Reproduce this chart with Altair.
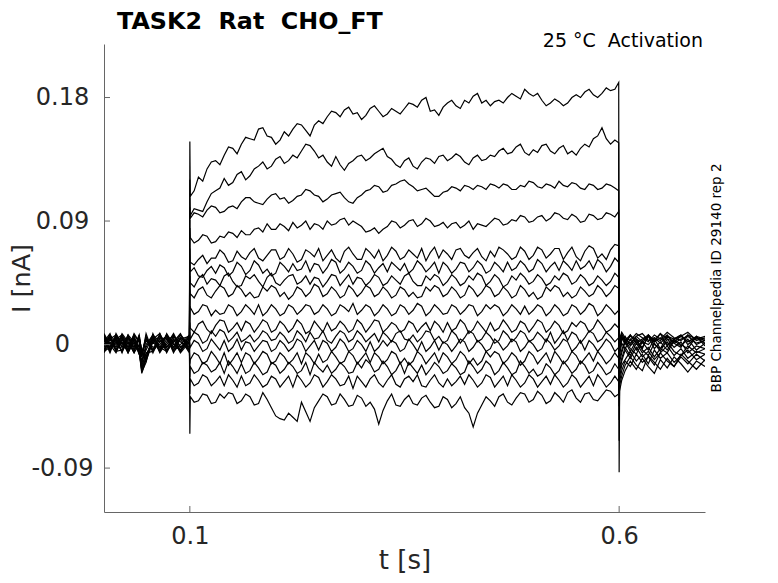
import altair as alt
import pandas as pd

# ---------------- time grids (s) ----------------
T_PRE = [0.000, 0.007, 0.014, 0.021, 0.028, 0.035, 0.041, 0.044, 0.049, 0.057,
         0.065, 0.073, 0.081, 0.089, 0.0995]
T_STEP = [0.1005, 0.11, 0.12, 0.13, 0.14, 0.15, 0.16, 0.17, 0.18, 0.19,
          0.20, 0.21, 0.22, 0.23, 0.24, 0.25, 0.26, 0.27, 0.28, 0.29,
          0.30, 0.31, 0.32, 0.33, 0.34, 0.35, 0.36, 0.37, 0.38, 0.39,
          0.40, 0.41, 0.42, 0.43, 0.44, 0.45, 0.46, 0.47, 0.48, 0.49,
          0.50, 0.51, 0.52, 0.53, 0.54, 0.55, 0.56, 0.57, 0.58, 0.59,
          0.5995]
T_MID = [0.105, 0.115, 0.125, 0.135, 0.145, 0.155, 0.165, 0.175, 0.185, 0.195,
         0.205, 0.215, 0.225, 0.235, 0.245, 0.255, 0.265, 0.275, 0.285, 0.295,
         0.305, 0.315, 0.325, 0.335, 0.345, 0.355, 0.365, 0.375, 0.385, 0.395,
         0.405, 0.415, 0.425, 0.435, 0.445, 0.455, 0.465, 0.475, 0.485, 0.495,
         0.505, 0.515, 0.525, 0.535, 0.545, 0.555, 0.565, 0.575, 0.585, 0.595]
T_TAIL = [0.6005, 0.603, 0.607, 0.613, 0.620, 0.627, 0.634, 0.641, 0.648, 0.656,
          0.664, 0.672, 0.680, 0.690, 0.700]
T_ON = 0.1
T_OFF = 0.6

# ---------------- currents (nA) ----------------
ON_SPIKE = [0.148, 0.120, 0.100, 0.085, 0.070, 0.060, 0.050, 0.040,
            0.028, 0.016, 0.009, 0.000, -0.014, -0.024, -0.036, -0.065]
OFF_SPIKE = [-0.093, -0.070, -0.055, -0.045, -0.035, -0.028, -0.022, -0.018,
             -0.014, -0.010, -0.008, -0.006, -0.004, -0.002, 0.000, 0.002]

P01 = [0.006,-0.004,0.007,0.001,-0.005,0.004,-0.007,-0.012,-0.004,0.006,-0.002,0.007,0.001,-0.005,0.004]
P02 = [-0.004,0.006,-0.002,0.008,0.002,-0.006,0.000,-0.009,0.003,-0.004,0.007,-0.002,0.006,0.002,-0.004]
P03 = [0.002,0.008,-0.005,0.004,-0.002,0.007,-0.006,-0.018,-0.009,0.004,0.008,-0.004,0.002,0.007,0.000]
P04 = [0.007,-0.002,0.004,-0.006,0.006,0.000,-0.005,-0.007,0.005,-0.005,0.002,0.006,-0.006,0.004,0.006]
P05 = [-0.005,0.004,0.000,0.006,-0.004,0.008,0.002,-0.020,-0.013,0.007,-0.004,0.000,0.008,-0.002,0.002]
P06 = [0.004,-0.006,0.006,-0.002,0.007,-0.004,0.005,-0.004,-0.011,0.008,-0.005,0.004,-0.002,0.007,-0.005]
P07 = [0.000,0.007,-0.004,0.002,-0.006,0.004,-0.002,-0.015,-0.007,0.002,0.006,-0.006,0.004,-0.004,0.007]
P08 = [0.008,0.000,0.005,-0.005,0.002,-0.006,0.007,-0.006,0.004,-0.002,0.000,0.007,-0.004,0.005,-0.002]
P09 = [-0.006,0.002,-0.004,0.007,0.000,0.005,-0.005,-0.019,-0.010,0.005,-0.006,0.002,0.007,-0.005,0.004]
P10 = [0.004,-0.005,0.008,0.000,0.005,-0.002,0.004,-0.008,0.006,-0.004,0.004,-0.005,0.002,0.008,-0.004]
P11 = [-0.002,0.007,0.002,-0.005,0.007,0.002,-0.007,-0.012,0.000,0.007,0.002,0.005,-0.005,0.000,0.007]
P12 = [0.005,0.000,-0.006,0.004,-0.004,0.007,0.002,-0.017,-0.006,-0.005,0.008,-0.002,0.004,-0.006,0.002]
P13 = [-0.004,0.004,0.007,-0.002,0.004,-0.005,0.005,-0.004,-0.012,0.002,-0.004,0.007,-0.002,0.004,-0.006]
P14 = [0.007,-0.004,0.002,0.005,-0.006,0.002,-0.004,-0.014,-0.002,0.007,-0.002,-0.005,0.007,-0.002,0.005]
P15 = [0.002,0.005,-0.005,-0.004,0.005,-0.002,0.007,-0.009,0.008,-0.006,0.005,0.004,-0.004,0.005,0.000]
P16 = [-0.005,-0.002,0.004,0.007,-0.002,0.005,-0.005,-0.021,-0.011,0.004,-0.005,0.008,0.000,-0.004,0.006]

S01 = [0.108,0.122,0.128,0.134,0.138,0.143,0.146,0.150,0.157,0.152,
       0.146,0.155,0.157,0.160,0.152,0.163,0.166,0.169,0.171,0.168,
       0.164,0.172,0.170,0.168,0.170,0.172,0.175,0.178,0.170,0.167,
       0.176,0.174,0.178,0.181,0.176,0.174,0.178,0.180,0.181,0.186,
       0.181,0.178,0.176,0.177,0.176,0.182,0.184,0.182,0.183,0.185,
       0.191]
S02 = [0.094,0.098,0.104,0.112,0.121,0.118,0.126,0.123,0.130,0.128,
       0.135,0.132,0.138,0.141,0.145,0.136,0.133,0.137,0.127,0.134,
       0.138,0.136,0.141,0.137,0.131,0.134,0.130,0.133,0.135,0.137,
       0.134,0.139,0.133,0.136,0.134,0.138,0.141,0.139,0.144,0.140,
       0.142,0.145,0.141,0.143,0.139,0.138,0.146,0.150,0.158,0.146,
       0.147]
S03 = [0.092,0.095,0.098,0.100,0.097,0.101,0.104,0.107,0.103,0.106,
       0.110,0.107,0.105,0.109,0.112,0.108,0.106,0.110,0.107,0.103,
       0.109,0.113,0.115,0.112,0.117,0.120,0.115,0.113,0.111,0.108,
       0.112,0.114,0.116,0.113,0.115,0.117,0.114,0.116,0.113,0.115,
       0.118,0.114,0.116,0.119,0.115,0.117,0.113,0.116,0.114,0.116,
       0.112]
S04 = [0.078,0.076,0.079,0.075,0.078,0.081,0.083,0.080,0.085,0.088,
       0.084,0.086,0.089,0.087,0.084,0.087,0.090,0.088,0.092,0.090,
       0.086,0.083,0.081,0.086,0.089,0.087,0.091,0.088,0.090,0.087,
       0.085,0.089,0.087,0.084,0.087,0.089,0.091,0.088,0.090,0.093,
       0.090,0.094,0.092,0.095,0.091,0.093,0.090,0.094,0.092,0.095,
       0.097]
S05 = [0.060,0.062,0.059,0.063,0.066,0.061,0.064,0.067,0.063,0.065,
       0.069,0.064,0.066,0.062,0.067,0.070,0.065,0.063,0.068,0.066,
       0.062,0.067,0.069,0.065,0.068,0.064,0.066,0.070,0.067,0.063,
       0.066,0.069,0.065,0.067,0.064,0.068,0.071,0.066,0.064,0.068,
       0.065,0.069,0.066,0.070,0.067,0.064,0.068,0.070,0.066,0.069,
       0.072]
S06 = [0.053,0.050,0.054,0.052,0.056,0.053,0.057,0.054,0.058,0.055,
       0.052,0.057,0.059,0.055,0.053,0.058,0.056,0.060,0.055,0.057,
       0.054,0.058,0.056,0.053,0.057,0.059,0.055,0.058,0.056,0.052,
       0.057,0.055,0.059,0.056,0.058,0.054,0.057,0.060,0.056,0.058,
       0.055,0.059,0.057,0.054,0.058,0.061,0.057,0.055,0.059,0.057,
       0.060]
S07 = [0.045,0.048,0.044,0.047,0.050,0.046,0.043,0.048,0.046,0.049,
       0.045,0.047,0.051,0.046,0.044,0.048,0.046,0.050,0.047,0.044,
       0.048,0.046,0.049,0.045,0.047,0.050,0.046,0.043,0.047,0.049,
       0.046,0.048,0.045,0.047,0.050,0.046,0.048,0.044,0.047,0.049,
       0.046,0.048,0.045,0.047,0.050,0.046,0.048,0.045,0.047,0.046,
       0.049]
S08 = [0.037,0.040,0.036,0.039,0.041,0.037,0.040,0.038,0.035,0.039,
       0.041,0.038,0.036,0.040,0.038,0.042,0.037,0.039,0.036,0.040,
       0.038,0.041,0.037,0.039,0.036,0.040,0.038,0.035,0.039,0.041,
       0.037,0.039,0.036,0.040,0.038,0.041,0.037,0.039,0.036,0.040,
       0.038,0.035,0.039,0.041,0.038,0.036,0.039,0.037,0.040,0.038,
       0.041]
S09 = [0.027,0.024,0.028,0.025,0.023,0.027,0.024,0.026,0.029,0.024,
       0.026,0.023,0.027,0.025,0.028,0.024,0.026,0.023,0.027,0.030,
       0.025,0.027,0.024,0.026,0.023,0.027,0.025,0.028,0.024,0.026,
       0.023,0.027,0.025,0.028,0.024,0.026,0.027,0.024,0.026,0.028,
       0.025,0.027,0.024,0.026,0.023,0.027,0.025,0.028,0.024,0.026,
       0.025]
S10 = [0.012,0.015,0.011,0.014,0.017,0.012,0.010,0.015,0.013,0.016,
       0.011,0.014,0.012,0.015,0.010,0.013,0.016,0.012,0.014,0.011,
       0.015,0.013,0.017,0.012,0.014,0.011,0.015,0.013,0.010,0.014,
       0.016,0.012,0.015,0.011,0.013,0.016,0.012,0.014,0.011,0.015,
       0.013,0.016,0.012,0.014,0.010,0.013,0.015,0.012,0.014,0.011,
       0.012]
S11 = [0.004,0.007,0.003,0.006,0.009,0.005,0.002,0.007,0.005,0.008,
       0.004,0.006,0.003,0.007,0.009,0.005,0.003,0.006,0.008,0.004,
       0.007,0.005,0.002,0.006,0.008,0.004,0.007,0.005,0.009,0.006,
       0.003,0.007,0.005,0.008,0.004,0.006,0.003,0.007,0.005,0.008,
       0.004,0.006,0.009,0.005,0.003,0.007,0.005,0.008,0.004,0.006,
       0.005]
S12 = [-0.002,0.001,-0.003,0.000,0.003,-0.002,-0.004,0.001,-0.001,0.002,
       -0.003,0.000,-0.002,0.002,-0.001,-0.004,0.001,-0.002,0.001,-0.003,
       0.000,0.002,-0.002,-0.001,0.001,-0.003,0.000,0.002,-0.002,-0.004,
       0.000,-0.001,0.002,-0.002,0.000,-0.003,0.001,-0.001,0.002,-0.002,
       0.000,-0.003,0.001,-0.001,0.002,-0.002,-0.004,0.000,-0.001,0.001,
       -0.002]
S13 = [-0.011,-0.008,-0.012,-0.009,-0.006,-0.011,-0.013,-0.008,-0.010,-0.007,
       -0.012,-0.009,-0.011,-0.014,-0.009,-0.007,-0.011,-0.009,-0.012,-0.008,
       -0.010,-0.013,-0.009,-0.011,-0.007,-0.010,-0.012,-0.008,-0.010,-0.013,
       -0.009,-0.011,-0.008,-0.010,-0.012,-0.009,-0.007,-0.011,-0.009,-0.012,
       -0.008,-0.010,-0.013,-0.009,-0.011,-0.008,-0.010,-0.012,-0.009,-0.011,
       -0.010]
S14 = [-0.016,-0.019,-0.015,-0.018,-0.021,-0.016,-0.014,-0.019,-0.017,-0.020,
       -0.015,-0.018,-0.016,-0.019,-0.022,-0.017,-0.015,-0.018,-0.016,-0.020,
       -0.017,-0.014,-0.018,-0.016,-0.019,-0.021,-0.017,-0.015,-0.018,-0.016,
       -0.019,-0.017,-0.020,-0.016,-0.018,-0.015,-0.019,-0.017,-0.020,-0.016,
       -0.018,-0.021,-0.017,-0.019,-0.016,-0.018,-0.015,-0.019,-0.017,-0.020,
       -0.018]
S15 = [-0.025,-0.028,-0.024,-0.027,-0.030,-0.026,-0.023,-0.028,-0.026,-0.029,
       -0.025,-0.027,-0.031,-0.026,-0.028,-0.024,-0.027,-0.025,-0.029,-0.032,
       -0.027,-0.025,-0.028,-0.026,-0.029,-0.025,-0.027,-0.030,-0.026,-0.028,
       -0.025,-0.027,-0.029,-0.026,-0.028,-0.024,-0.027,-0.030,-0.026,-0.028,
       -0.025,-0.027,-0.029,-0.026,-0.028,-0.025,-0.027,-0.030,-0.026,-0.028,
       -0.027]
S16 = [-0.038,-0.041,-0.037,-0.042,-0.039,-0.036,-0.041,-0.038,-0.043,-0.040,
       -0.052,-0.055,-0.053,-0.042,-0.056,-0.041,-0.038,-0.043,-0.040,-0.044,
       -0.039,-0.042,-0.058,-0.041,-0.044,-0.040,-0.043,-0.039,-0.042,-0.045,
       -0.040,-0.043,-0.046,-0.060,-0.044,-0.041,-0.038,-0.042,-0.039,-0.036,
       -0.040,-0.037,-0.041,-0.038,-0.035,-0.039,-0.036,-0.040,-0.037,-0.034,
       -0.036]

M01 = [0.112,0.119,0.133,0.131,0.144,0.139,0.151,0.149,0.158,0.151,
       0.149,0.152,0.161,0.156,0.160,0.161,0.170,0.166,0.173,0.169,
       0.167,0.174,0.166,0.172,0.168,0.176,0.173,0.180,0.171,0.173,
       0.178,0.172,0.176,0.183,0.178,0.177,0.176,0.183,0.179,0.183,
       0.183,0.174,0.179,0.174,0.180,0.180,0.186,0.180,0.187,0.186]
M02 = [0.099,0.097,0.110,0.114,0.116,0.124,0.120,0.128,0.133,0.130,
       0.137,0.134,0.136,0.146,0.141,0.138,0.130,0.131,0.132,0.137,
       0.134,0.139,0.143,0.135,0.129,0.136,0.128,0.136,0.132,0.138,
       0.136,0.137,0.131,0.138,0.135,0.137,0.143,0.140,0.146,0.138,
       0.140,0.146,0.139,0.145,0.141,0.143,0.144,0.152,0.150,0.149]
M03 = [0.096,0.093,0.101,0.096,0.100,0.099,0.107,0.104,0.102,0.109,
       0.106,0.103,0.108,0.113,0.109,0.104,0.109,0.111,0.104,0.107,
       0.112,0.116,0.111,0.116,0.119,0.117,0.112,0.114,0.108,0.111,
       0.115,0.112,0.115,0.116,0.113,0.116,0.117,0.113,0.116,0.119,
       0.115,0.117,0.114,0.116,0.118,0.114,0.117,0.113,0.117,0.114]
M04 = [0.074,0.080,0.074,0.079,0.082,0.078,0.080,0.084,0.082,0.084,
       0.088,0.083,0.085,0.090,0.088,0.084,0.087,0.091,0.087,0.088,
       0.082,0.085,0.084,0.090,0.085,0.090,0.086,0.092,0.086,0.089,
       0.088,0.085,0.090,0.088,0.086,0.092,0.087,0.091,0.094,0.089,
       0.093,0.090,0.096,0.092,0.095,0.089,0.095,0.091,0.096,0.093]
M05 = [0.058,0.065,0.063,0.069,0.060,0.068,0.062,0.070,0.061,0.069,
       0.062,0.070,0.060,0.069,0.064,0.061,0.069,0.060,0.071,0.062,
       0.070,0.063,0.061,0.071,0.062,0.069,0.063,0.061,0.071,0.069,
       0.062,0.070,0.063,0.070,0.061,0.064,0.069,0.062,0.071,0.062,
       0.071,0.063,0.070,0.062,0.071,0.061,0.072,0.063,0.062,0.073]
M06 = [0.056,0.049,0.057,0.058,0.050,0.060,0.051,0.061,0.052,0.050,
       0.060,0.053,0.054,0.061,0.059,0.052,0.062,0.052,0.060,0.052,
       0.061,0.052,0.059,0.060,0.054,0.052,0.061,0.053,0.060,0.060,
       0.052,0.060,0.053,0.061,0.052,0.060,0.053,0.054,0.061,0.053,
       0.062,0.053,0.060,0.061,0.054,0.055,0.061,0.062,0.053,0.063]
M07 = [0.042,0.051,0.048,0.043,0.052,0.042,0.050,0.051,0.042,0.052,
       0.043,0.050,0.044,0.050,0.049,0.042,0.051,0.043,0.051,0.049,
       0.043,0.051,0.043,0.050,0.044,0.052,0.043,0.050,0.051,0.043,
       0.051,0.043,0.050,0.052,0.043,0.051,0.042,0.050,0.052,0.044,
       0.051,0.043,0.050,0.052,0.044,0.051,0.043,0.050,0.043,0.052]
M08 = [0.034,0.042,0.034,0.043,0.035,0.043,0.035,0.034,0.042,0.043,
       0.035,0.033,0.042,0.035,0.044,0.035,0.042,0.034,0.043,0.035,
       0.043,0.035,0.042,0.034,0.042,0.035,0.034,0.042,0.043,0.035,
       0.042,0.034,0.043,0.035,0.043,0.035,0.042,0.034,0.043,0.035,
       0.033,0.042,0.043,0.035,0.034,0.042,0.035,0.043,0.035,0.043]
M09 = [0.022,0.029,0.021,0.022,0.029,0.021,0.029,0.022,0.021,0.029,
       0.021,0.029,0.022,0.029,0.022,0.029,0.021,0.029,0.024,0.022,
       0.029,0.021,0.029,0.021,0.029,0.022,0.030,0.021,0.029,0.022,
       0.029,0.022,0.029,0.021,0.029,0.029,0.021,0.029,0.022,0.022,
       0.029,0.021,0.029,0.021,0.029,0.022,0.030,0.021,0.029,0.022]
M10 = [0.009,0.017,0.008,0.018,0.009,0.016,0.017,0.009,0.018,0.009,
       0.017,0.009,0.018,0.008,0.017,0.009,0.010,0.017,0.009,0.018,
       0.009,0.018,0.009,0.016,0.009,0.017,0.009,0.016,0.017,0.009,
       0.010,0.018,0.008,0.017,0.009,0.010,0.018,0.009,0.017,0.009,
       0.018,0.009,0.017,0.008,0.016,0.017,0.009,0.018,0.009,0.015]
M11 = [0.009,0.001,0.010,0.011,0.002,0.009,0.004,0.002,0.010,0.003,
       0.009,0.001,0.010,0.002,0.004,0.010,0.001,0.010,0.002,0.010,
       0.002,0.008,0.009,0.002,0.010,0.003,0.002,0.010,0.003,0.001,
       0.010,0.001,0.010,0.002,0.009,0.001,0.010,0.002,0.010,0.002,
       0.009,0.002,0.001,0.010,0.009,0.001,0.010,0.002,0.009,0.002]
M12 = [0.003,-0.005,0.004,-0.004,-0.005,0.004,0.002,-0.005,0.003,-0.005,
       0.003,-0.005,0.004,-0.005,0.003,0.003,-0.005,0.004,-0.005,0.003,
       -0.005,-0.005,0.003,0.003,-0.005,0.004,-0.005,-0.005,0.003,0.002,
       -0.005,0.004,-0.005,0.003,-0.005,0.004,-0.004,0.004,-0.005,0.003,
       -0.005,0.004,-0.004,0.004,-0.005,0.003,0.003,-0.005,0.004,-0.005]
M13 = [-0.006,-0.014,-0.005,-0.014,-0.015,-0.006,-0.006,-0.014,-0.005,-0.014,
       -0.006,-0.014,-0.006,-0.006,-0.014,-0.013,-0.005,-0.014,-0.005,-0.014,
       -0.006,-0.006,-0.014,-0.005,-0.014,-0.015,-0.005,-0.014,-0.006,-0.006,
       -0.014,-0.005,-0.014,-0.015,-0.005,-0.005,-0.014,-0.006,-0.015,-0.005,
       -0.014,-0.006,-0.005,-0.014,-0.005,-0.014,-0.006,-0.005,-0.014,-0.006]
M14 = [-0.021,-0.013,-0.020,-0.013,-0.012,-0.021,-0.021,-0.013,-0.022,-0.013,
       -0.021,-0.013,-0.021,-0.013,-0.013,-0.020,-0.021,-0.013,-0.021,-0.013,
       -0.011,-0.020,-0.012,-0.022,-0.013,-0.013,-0.021,-0.022,-0.013,-0.021,
       -0.014,-0.022,-0.012,-0.021,-0.012,-0.022,-0.013,-0.022,-0.012,-0.021,
       -0.023,-0.014,-0.022,-0.012,-0.021,-0.012,-0.021,-0.013,-0.022,-0.014]
M15 = [-0.030,-0.022,-0.030,-0.023,-0.022,-0.031,-0.030,-0.022,-0.031,-0.023,
       -0.031,-0.023,-0.022,-0.031,-0.022,-0.031,-0.022,-0.030,-0.023,-0.023,
       -0.031,-0.022,-0.031,-0.022,-0.031,-0.023,-0.022,-0.031,-0.022,-0.031,
       -0.030,-0.023,-0.022,-0.031,-0.022,-0.031,-0.023,-0.022,-0.031,-0.022,
       -0.031,-0.023,-0.022,-0.031,-0.022,-0.031,-0.023,-0.022,-0.031,-0.023]
M16 = [-0.042,-0.036,-0.043,-0.036,-0.035,-0.043,-0.036,-0.044,-0.035,-0.046,
       -0.054,-0.050,-0.056,-0.049,-0.046,-0.036,-0.044,-0.036,-0.045,-0.037,
       -0.045,-0.047,-0.048,-0.036,-0.045,-0.037,-0.044,-0.037,-0.046,-0.038,
       -0.046,-0.038,-0.050,-0.050,-0.038,-0.045,-0.036,-0.044,-0.035,-0.042,
       -0.034,-0.043,-0.035,-0.042,-0.033,-0.042,-0.035,-0.041,-0.033,-0.038]

A01 = [-0.034,-0.026,-0.019,-0.012,-0.018,-0.010,-0.016,-0.021,-0.011,-0.017,-0.009,-0.014,-0.020,-0.012,-0.016]
A02 = [-0.030,-0.023,-0.015,-0.009,-0.015,-0.019,-0.008,-0.013,-0.018,-0.010,-0.016,-0.007,-0.012,-0.018,-0.011]
A03 = [-0.027,-0.019,-0.012,-0.016,-0.007,-0.013,-0.009,-0.015,-0.006,-0.012,-0.016,-0.009,-0.014,-0.007,-0.012]
A04 = [-0.024,-0.015,-0.011,-0.005,-0.012,-0.007,-0.014,-0.004,-0.010,-0.006,-0.013,-0.008,-0.004,-0.011,-0.007]
A05 = [-0.020,-0.012,-0.004,-0.010,-0.002,-0.009,-0.005,-0.011,-0.006,-0.001,-0.008,-0.003,-0.010,-0.005,-0.007]
A06 = [-0.017,-0.010,-0.002,-0.008,0.001,-0.006,-0.002,-0.009,-0.003,0.002,-0.005,-0.008,-0.001,-0.006,-0.003]
A07 = [-0.013,-0.006,0.002,-0.005,0.003,-0.004,-0.008,0.001,-0.005,0.004,-0.002,0.002,-0.006,-0.001,-0.003]
A08 = [-0.010,-0.004,0.003,-0.003,-0.007,0.002,-0.004,0.004,-0.003,-0.006,0.003,-0.001,0.004,-0.004,0.001]
A09 = [-0.008,0.001,-0.003,0.004,-0.004,0.003,0.006,-0.003,0.002,-0.004,0.004,0.000,-0.003,0.006,-0.001]
A10 = [-0.005,0.003,0.006,-0.001,0.004,-0.003,0.007,0.000,-0.003,0.006,0.001,-0.002,0.007,0.000,0.003]
A11 = [-0.003,0.005,0.000,0.007,0.001,-0.002,0.006,0.002,0.008,-0.001,0.004,0.007,0.000,0.005,0.001]
A12 = [0.000,0.005,0.002,0.000,0.006,0.002,0.000,0.005,0.003,0.007,0.001,0.004,0.006,0.001,0.003]
A13 = [0.001,0.006,0.003,0.007,0.001,0.004,0.007,0.002,0.005,0.000,0.004,0.006,0.002,0.005,0.003]
A14 = [0.002,0.007,0.004,0.001,0.006,0.008,0.003,0.005,0.001,0.006,0.004,0.007,0.002,0.006,0.004]
A15 = [0.003,0.008,0.002,0.006,0.004,0.001,0.007,0.003,0.008,0.004,0.002,0.006,0.009,0.003,0.005]
A16 = [0.004,0.009,0.005,0.003,0.008,0.005,0.002,0.007,0.004,0.009,0.005,0.003,0.007,0.004,0.006]

X_TICKS = [0.1, 0.6]
Y_TICKS = [-0.09, 0.0, 0.09, 0.18]

TITLE = "TASK2\u00a0\u00a0Rat\u00a0\u00a0CHO_FT"
COND = "25\u00a0°C\u00a0\u00a0Activation"
SIDE = "BBP Channelpedia ID 29140 rep 2"

PRE = [P01, P02, P03, P04, P05, P06, P07, P08, P09, P10, P11, P12, P13, P14, P15, P16]
STEP = [S01, S02, S03, S04, S05, S06, S07, S08, S09, S10, S11, S12, S13, S14, S15, S16]
MID = [M01, M02, M03, M04, M05, M06, M07, M08, M09, M10, M11, M12, M13, M14, M15, M16]
TAIL = [A01, A02, A03, A04, A05, A06, A07, A08, A09, A10, A11, A12, A13, A14, A15, A16]

rows = []
for i in range(len(STEP)):
    assert len(PRE[i]) == len(T_PRE), ("pre", i)
    assert len(STEP[i]) == len(T_STEP), ("step", i, len(STEP[i]))
    assert len(MID[i]) == len(T_MID), ("mid", i, len(MID[i]))
    assert len(TAIL[i]) == len(T_TAIL), ("tail", i)
    step_pts = sorted(list(zip(T_STEP, STEP[i])) + list(zip(T_MID, MID[i])))
    pts = (list(zip(T_PRE, PRE[i])) + [(T_ON, ON_SPIKE[i])] + step_pts
           + [(T_OFF, OFF_SPIKE[i])] + list(zip(T_TAIL, TAIL[i])))
    for k, (t, v) in enumerate(pts):
        rows.append({"t": t, "I": v, "trace": i, "idx": k})
df = pd.DataFrame(rows)

W, H = 601, 468
FONT = "DejaVu Sans"
AX = "#666666"
TXT = "#262626"

xscale = alt.Scale(domain=[0, 0.7], nice=False, zero=False)
yscale = alt.Scale(domain=[-0.122, 0.219], nice=False, zero=False)

lines = alt.Chart(df).mark_line(color="black", strokeWidth=1.2, clip=True).encode(
    x=alt.X("t:Q", scale=xscale,
            axis=alt.Axis(values=X_TICKS, format=".1f", title="t [s]",
                          labelPadding=12, labelFontSize=24,
                          titleX=W / 2, titleY=48, titleBaseline="middle",
                          titleAlign="center", titleFontSize=26)),
    y=alt.Y("I:Q", scale=yscale,
            axis=alt.Axis(values=Y_TICKS, title="I [nA]", labelPadding=42,
                          labelAlign="center", labelFontSize=24,
                          titleX=-83, titleY=H / 2, titleBaseline="middle",
                          titleAlign="center", titleAngle=270, titleFontSize=25.5,
                          labelExpr="datum.value == 0 ? '0' : (datum.value < 0 ? '-' + format(-datum.value, '.2f') : format(datum.value, '.2f'))")),
    detail="trace:N",
    order="idx:Q",
)

xt = alt.Chart(pd.DataFrame({"t": X_TICKS})).mark_rule(color=AX, strokeWidth=1).encode(
    x=alt.X("t:Q", scale=xscale), y=alt.value(H), y2=alt.value(H - 6))
yt = alt.Chart(pd.DataFrame({"I": Y_TICKS})).mark_rule(color=AX, strokeWidth=1).encode(
    y=alt.Y("I:Q", scale=yscale), x=alt.value(0), x2=alt.value(6))

title = alt.Chart(pd.DataFrame({"s": [TITLE]})).mark_text(
    align="left", baseline="alphabetic", font=FONT, fontSize=23.8, fontWeight="bold", color="black"
).encode(x=alt.value(13), y=alt.value(-15), text="s:N")

cond = alt.Chart(pd.DataFrame({"s": [COND]})).mark_text(
    align="right", baseline="alphabetic", font=FONT, fontSize=19, color="black"
).encode(x=alt.value(599), y=alt.value(3), text="s:N")

side = alt.Chart(pd.DataFrame({"s": [SIDE]})).mark_text(
    align="center", baseline="middle", angle=270, font=FONT, fontSize=13.5, color="black"
).encode(x=alt.value(613), y=alt.value(H / 2), text="s:N")

chart = alt.layer(lines, xt, yt, title, cond, side).properties(
    width=W, height=H,
    autosize=alt.AutoSizeParams(type="none"),
    padding={"left": 96, "top": 36, "right": 60, "bottom": 63},
).configure_view(stroke=None).configure_axis(
    domainColor=AX, domainWidth=1, ticks=False, tickSize=0, grid=False,
    labelFont=FONT, labelColor=TXT,
    titleFont=FONT, titleColor=TXT, titleFontWeight="normal",
)

chart.save("out.html", embed_options={"renderer": "svg", "actions": False})
